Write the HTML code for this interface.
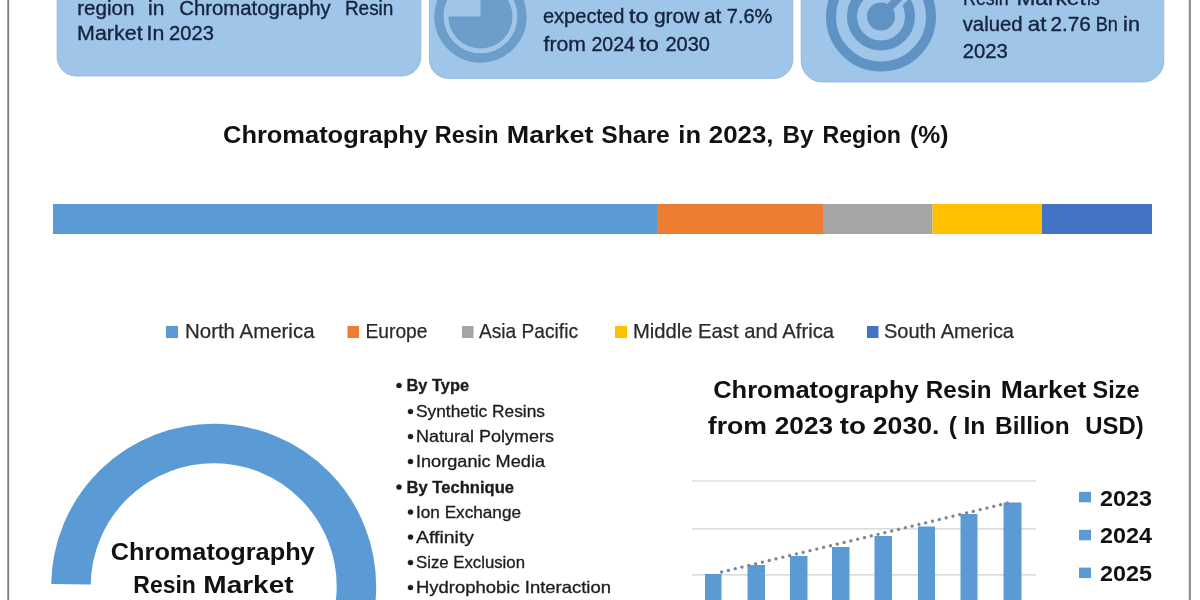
<!DOCTYPE html>
<html lang="en">
<head>
<meta charset="utf-8">
<title>Chromatography Resin Market</title>
<style>
html,body{margin:0;padding:0;background:#fff;}
body{width:1200px;height:600px;overflow:hidden;position:relative;font-family:"Liberation Sans",sans-serif;}
svg{position:absolute;left:0;top:0;display:block;}
text{font-family:"Liberation Sans",sans-serif;}
.nv{fill:#15233f;stroke:#15233f;stroke-width:0.35;}
.bk{fill:#111;font-weight:bold;}
.lg{fill:#2a2a2a;stroke:#2a2a2a;stroke-width:0.25;}
.li{fill:#1c1c1c;stroke:#1c1c1c;stroke-width:0.3;}
</style>
</head>
<body>
<svg width="1200" height="600" viewBox="0 0 1200 600">
  <rect x="0" y="0" width="1200" height="600" fill="#ffffff"/>
  <!-- page border lines -->
  <rect x="7.3" y="-5" width="1.8" height="610" fill="#737d84"/>
  <rect x="1188.8" y="-5" width="2.2" height="610" fill="#8c9196"/>

  <!-- top info boxes -->
  <rect x="57.2" y="-40" width="363.6" height="116" rx="19" ry="19" fill="#9fc5e8" stroke="#8eb2d6" stroke-width="0.8"/>
  <rect x="429.4" y="-40" width="363.4" height="118.4" rx="19" ry="19" fill="#9fc5e8" stroke="#8eb2d6" stroke-width="0.8"/>
  <rect x="801.2" y="-40" width="362.6" height="122" rx="21" ry="21" fill="#9fc5e8" stroke="#8eb2d6" stroke-width="0.8"/>

  <!-- pie icon -->
  <g>
    <circle cx="480.5" cy="16.5" r="41.5" fill="none" stroke="#6d9dc9" stroke-width="9"/>
    <circle cx="480.5" cy="16.5" r="32" fill="#6d9dc9"/>
    <rect x="440" y="-30" width="40.5" height="46.5" fill="#9fc5e8"/>
    <circle cx="480.5" cy="16.5" r="41.5" fill="none" stroke="#6d9dc9" stroke-width="9"/>
  </g>
  <!-- target icon -->
  <g fill="none" stroke="#5f93c4">
    <circle cx="881" cy="16.5" r="50" stroke-width="10"/>
    <circle cx="881" cy="16.5" r="29" stroke-width="10"/>
    <line x1="881" y1="16.5" x2="912" y2="-16" stroke="#9fc5e8" stroke-width="16"/>
    <line x1="881" y1="16.5" x2="906" y2="-10" stroke-width="8"/>
    <circle cx="881" cy="16.5" r="14" fill="#5f93c4" stroke="none"/>
  </g>

  <!-- box texts -->
  <text class="nv" font-size="19.4" y="14.7"><tspan x="77.2" textLength="57.2" lengthAdjust="spacingAndGlyphs">region</tspan> <tspan x="148.1" textLength="16.3" lengthAdjust="spacingAndGlyphs">in</tspan> <tspan x="179.3" textLength="151.4" lengthAdjust="spacingAndGlyphs">Chromatography</tspan> <tspan x="344.9" textLength="48.5" lengthAdjust="spacingAndGlyphs">Resin</tspan></text>
  <text class="nv" font-size="19.4" y="39.8"><tspan x="77.1" textLength="65.5" lengthAdjust="spacingAndGlyphs">Market</tspan> <tspan x="146.6" textLength="17.8" lengthAdjust="spacingAndGlyphs">In</tspan> <tspan x="169.1" textLength="44.8" lengthAdjust="spacingAndGlyphs">2023</tspan></text>

  <text class="nv" font-size="19.8" y="23"><tspan x="542.9" textLength="81.5" lengthAdjust="spacingAndGlyphs">expected</tspan> <tspan x="628.9" textLength="19.5" lengthAdjust="spacingAndGlyphs">to</tspan> <tspan x="653.9" textLength="45.5" lengthAdjust="spacingAndGlyphs">grow</tspan> <tspan x="703.9" textLength="17.4" lengthAdjust="spacingAndGlyphs">at</tspan> <tspan x="726.8" textLength="45.6" lengthAdjust="spacingAndGlyphs">7.6%</tspan></text>
  <text class="nv" font-size="19.8" y="50.5"><tspan x="543.5" textLength="42.4" lengthAdjust="spacingAndGlyphs">from</tspan> <tspan x="591.4" textLength="43.5" lengthAdjust="spacingAndGlyphs">2024</tspan> <tspan x="639.3" textLength="19.6" lengthAdjust="spacingAndGlyphs">to</tspan> <tspan x="665.4" textLength="44.5" lengthAdjust="spacingAndGlyphs">2030</tspan></text>

  <text class="nv" font-size="19.8" y="4.5"><tspan x="963.1" textLength="45.5" lengthAdjust="spacingAndGlyphs">Resin</tspan> <tspan x="1016.5" textLength="69.2" lengthAdjust="spacingAndGlyphs">Market</tspan> <tspan x="1087.1" textLength="12.6" lengthAdjust="spacingAndGlyphs">is</tspan></text>
  <text class="nv" font-size="19.8" y="30.6"><tspan x="962.7" textLength="59.9" lengthAdjust="spacingAndGlyphs">valued</tspan> <tspan x="1027.8" textLength="18.5" lengthAdjust="spacingAndGlyphs">at</tspan> <tspan x="1050.6" textLength="40.3" lengthAdjust="spacingAndGlyphs">2.76</tspan> <tspan x="1095.7" textLength="22.2" lengthAdjust="spacingAndGlyphs">Bn</tspan> <tspan x="1123.1" textLength="16.8" lengthAdjust="spacingAndGlyphs">in</tspan></text>
  <text class="nv" font-size="19.8" y="57.7"><tspan x="962.7" textLength="45.1" lengthAdjust="spacingAndGlyphs">2023</tspan></text>

  <!-- title -->
  <text class="bk" font-size="23" y="142.7"><tspan x="223.0" textLength="205.0" lengthAdjust="spacingAndGlyphs">Chromatography</tspan> <tspan x="434.8" textLength="63.7" lengthAdjust="spacingAndGlyphs">Resin</tspan> <tspan x="506.8" textLength="86.7" lengthAdjust="spacingAndGlyphs">Market</tspan> <tspan x="601.3" textLength="68.5" lengthAdjust="spacingAndGlyphs">Share</tspan> <tspan x="678.3" textLength="22.7" lengthAdjust="spacingAndGlyphs">in</tspan> <tspan x="708.8" textLength="64.7" lengthAdjust="spacingAndGlyphs">2023,</tspan> <tspan x="782.5" textLength="30.9" lengthAdjust="spacingAndGlyphs">By</tspan> <tspan x="822.5" textLength="78.5" lengthAdjust="spacingAndGlyphs">Region</tspan> <tspan x="910.0" textLength="38.5" lengthAdjust="spacingAndGlyphs">(%)</tspan></text>

  <!-- stacked bar -->
  <rect x="53" y="204" width="604" height="30" fill="#5b9bd5"/>
  <rect x="657" y="204" width="166" height="30" fill="#ed7d31"/>
  <rect x="823" y="204" width="109.5" height="30" fill="#a5a5a5"/>
  <rect x="932.5" y="204" width="109.5" height="30" fill="#ffc000"/>
  <rect x="1042" y="204" width="110" height="30" fill="#4472c4"/>

  <!-- legend -->
  <rect x="166" y="326" width="12" height="12" fill="#5b9bd5"/>
  <text class="lg" font-size="19.8" x="185" y="337.5" textLength="129.5" lengthAdjust="spacingAndGlyphs">North America</text>
  <rect x="347.5" y="326" width="11.5" height="12" fill="#ed7d31"/>
  <text class="lg" font-size="19.8" x="365.5" y="337.5" textLength="62" lengthAdjust="spacingAndGlyphs">Europe</text>
  <rect x="462" y="326" width="11.5" height="12" fill="#a5a5a5"/>
  <text class="lg" font-size="19.8" x="479" y="337.5" textLength="99" lengthAdjust="spacingAndGlyphs">Asia Pacific</text>
  <rect x="615" y="326" width="12" height="12" fill="#ffc000"/>
  <text class="lg" font-size="19.8" x="633" y="337.5" textLength="201" lengthAdjust="spacingAndGlyphs">Middle East and Africa</text>
  <rect x="867" y="326" width="11.5" height="12" fill="#4472c4"/>
  <text class="lg" font-size="19.8" x="884" y="337.5" textLength="130" lengthAdjust="spacingAndGlyphs">South America</text>

  <!-- donut arc -->
  <path d="M 70.97 584.2 A 142.75 142.75 0 1 1 213.7 729.05" fill="none" stroke="#5b9bd5" stroke-width="39.5"/>
  <text class="bk" font-size="23" y="560.3"><tspan x="110.8" textLength="203.9" lengthAdjust="spacingAndGlyphs">Chromatography</tspan></text>
  <text class="bk" font-size="23" y="593.3"><tspan x="133.3" textLength="62.6" lengthAdjust="spacingAndGlyphs">Resin</tspan> <tspan x="203.3" textLength="90.3" lengthAdjust="spacingAndGlyphs">Market</tspan></text>

  <!-- segment list -->
  <g class="li" font-size="16.5">
    <circle cx="399" cy="385.5" r="2.6"/>
    <text font-weight="bold" x="406.5" y="391" textLength="62.5" lengthAdjust="spacingAndGlyphs">By Type</text>
    <circle cx="410.5" cy="411.5" r="2.6"/>
    <text x="416" y="417" textLength="129" lengthAdjust="spacingAndGlyphs">Synthetic Resins</text>
    <circle cx="410.5" cy="436.5" r="2.6"/>
    <text x="416" y="441.5" textLength="138" lengthAdjust="spacingAndGlyphs">Natural Polymers</text>
    <circle cx="410.5" cy="461.5" r="2.6"/>
    <text x="416" y="466.5" textLength="129" lengthAdjust="spacingAndGlyphs">Inorganic Media</text>
    <circle cx="399" cy="487" r="2.6"/>
    <text font-weight="bold" x="406.5" y="492.5" textLength="107.5" lengthAdjust="spacingAndGlyphs">By Technique</text>
    <circle cx="410.5" cy="512" r="2.6"/>
    <text x="416" y="517.5" textLength="105" lengthAdjust="spacingAndGlyphs">Ion Exchange</text>
    <circle cx="410.5" cy="537" r="2.6"/>
    <text x="416" y="542.5" textLength="58" lengthAdjust="spacingAndGlyphs">Affinity</text>
    <circle cx="410.5" cy="562.5" r="2.6"/>
    <text x="416" y="568" textLength="109" lengthAdjust="spacingAndGlyphs">Size Exclusion</text>
    <circle cx="410.5" cy="587.5" r="2.6"/>
    <text x="416" y="593" textLength="195" lengthAdjust="spacingAndGlyphs">Hydrophobic Interaction</text>
  </g>

  <!-- right chart title -->
  <text class="bk" font-size="23.8" y="397.5"><tspan x="713.2" textLength="205.5" lengthAdjust="spacingAndGlyphs">Chromatography</tspan> <tspan x="925.8" textLength="65.8" lengthAdjust="spacingAndGlyphs">Resin</tspan> <tspan x="1000.8" textLength="85.6" lengthAdjust="spacingAndGlyphs">Market</tspan> <tspan x="1092.5" textLength="47.0" lengthAdjust="spacingAndGlyphs">Size</tspan></text>
  <text class="bk" font-size="23.8" y="433.5"><tspan x="707.8" textLength="59.2" lengthAdjust="spacingAndGlyphs">from</tspan> <tspan x="774.8" textLength="58.2" lengthAdjust="spacingAndGlyphs">2023</tspan> <tspan x="839.8" textLength="26.2" lengthAdjust="spacingAndGlyphs">to</tspan> <tspan x="872.8" textLength="66.7" lengthAdjust="spacingAndGlyphs">2030.</tspan> <tspan x="948.8" textLength="8.2" lengthAdjust="spacingAndGlyphs">(</tspan> <tspan x="963.4" textLength="22.0" lengthAdjust="spacingAndGlyphs">In</tspan> <tspan x="995.0" textLength="74.7" lengthAdjust="spacingAndGlyphs">Billion</tspan> <tspan x="1085.3" textLength="58.4" lengthAdjust="spacingAndGlyphs">USD)</tspan></text>

  <!-- bar chart -->
  <g stroke="#d0d0d0" stroke-width="1.2">
    <line x1="692" y1="481" x2="1036" y2="481"/>
    <line x1="692" y1="528.8" x2="1036" y2="528.8"/>
    <line x1="692" y1="574.8" x2="1036" y2="574.8"/>
  </g>
  <g fill="#5b9bd5">
    <rect x="705" y="574" width="16.5" height="30"/>
    <rect x="747.5" y="565" width="17.5" height="40"/>
    <rect x="790" y="556" width="17.5" height="50"/>
    <rect x="832" y="547" width="17.5" height="60"/>
    <rect x="874.5" y="536" width="17.5" height="70"/>
    <rect x="918" y="526.5" width="17" height="80"/>
    <rect x="960.5" y="514" width="17" height="90"/>
    <rect x="1003.5" y="502.5" width="18" height="100"/>
  </g>
  <line x1="721.5" y1="572" x2="1012" y2="502" stroke="#7b8794" stroke-width="3.2" stroke-linecap="round" stroke-dasharray="0.1 6.9"/>

  <!-- bar chart legend -->
  <rect x="1079" y="491.8" width="12" height="10.5" fill="#5b9bd5"/>
  <text class="bk" font-size="22.6" x="1100" y="505.8" textLength="52" lengthAdjust="spacingAndGlyphs">2023</text>
  <rect x="1079" y="529.8" width="12" height="10.5" fill="#5b9bd5"/>
  <text class="bk" font-size="22.6" x="1100" y="542.8" textLength="52" lengthAdjust="spacingAndGlyphs">2024</text>
  <rect x="1079" y="567.6" width="12" height="10.5" fill="#5b9bd5"/>
  <text class="bk" font-size="22.6" x="1100" y="580.8" textLength="52" lengthAdjust="spacingAndGlyphs">2025</text>
  <rect x="1079" y="602.5" width="12" height="11" fill="#5b9bd5"/>
  <text class="bk" font-size="22.6" x="1100" y="618.5" textLength="52" lengthAdjust="spacingAndGlyphs">2026</text>
</svg>
</body>
</html>
